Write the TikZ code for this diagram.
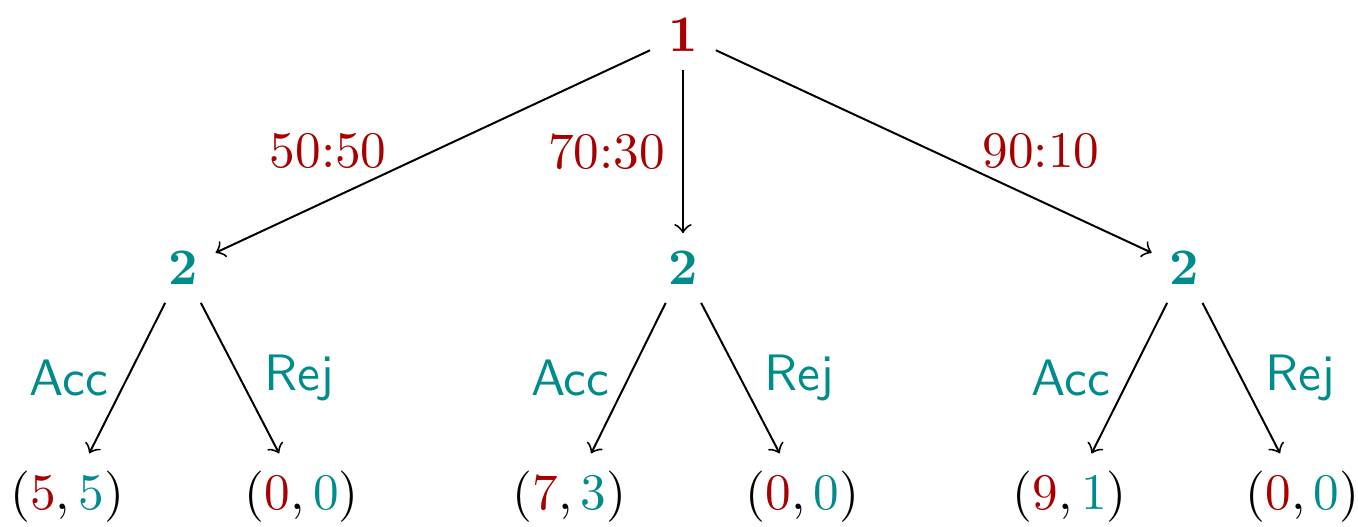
\documentclass[tikz,border=0pt]{standalone}
\usepackage{amsmath,amssymb}
\usepackage{tikz}
\definecolor{pone}{RGB}{168,0,0}
\definecolor{ptwo}{RGB}{0,140,140}

\begin{document}
\begin{tikzpicture}[every node/.style={scale=1.035},
  move/.style={->},
  player one/.style={text=pone,font=\bfseries},
  player two/.style={text=ptwo,font=\bfseries},
  share/.style={text=pone},
  answer/.style={text=ptwo,font=\sffamily}]
  \useasboundingbox (-4.847,0.248) rectangle (4.791,-3.485);

  %first mover
  \node[player one] (p1) at (0,0) {1};

  %second mover
  \node[player two] (p2l) at (-3.55,-1.654) {2};
  \node[player two] (p2m) at (0,-1.654) {2};
  \node[player two] (p2r) at (3.56,-1.654) {2};

  %payoffs
  \node (o1) at (-4.37,-3.28) {$(\textcolor{pone}{5},\textcolor{ptwo}{5})$};
  \node (o2) at (-2.705,-3.28) {$(\textcolor{pone}{0},\textcolor{ptwo}{0})$};
  \node (o3) at (-0.805,-3.28) {$(\textcolor{pone}{7},\textcolor{ptwo}{3})$};
  \node (o4) at (0.848,-3.28) {$(\textcolor{pone}{0},\textcolor{ptwo}{0})$};
  \node (o5) at (2.745,-3.28) {$(\textcolor{pone}{9},\textcolor{ptwo}{1})$};
  \node (o6) at (4.397,-3.28) {$(\textcolor{pone}{0},\textcolor{ptwo}{0})$};

  %offers
  \draw[move] (p1) -- node[share,left=5.5pt]{50:50} (p2l);
  \draw[move] (p1) -- node[share,left]{70:30} (p2m);
  \draw[move] (p1) -- node[share,right=6pt]{90:10} (p2r);

  %answers
  \draw[move] (p2l) -- node[answer,left=0.2pt]{Acc} (o1);
  \draw[move] (p2l) -- node[answer,right=1.2pt]{Rej} (o2);
  \draw[move] (p2m) -- node[answer,left=0.2pt]{Acc} (o3);
  \draw[move] (p2m) -- node[answer,right=1.2pt]{Rej} (o4);
  \draw[move] (p2r) -- node[answer,left=0.2pt]{Acc} (o5);
  \draw[move] (p2r) -- node[answer,right=1.2pt]{Rej} (o6);
\end{tikzpicture}
\end{document}
